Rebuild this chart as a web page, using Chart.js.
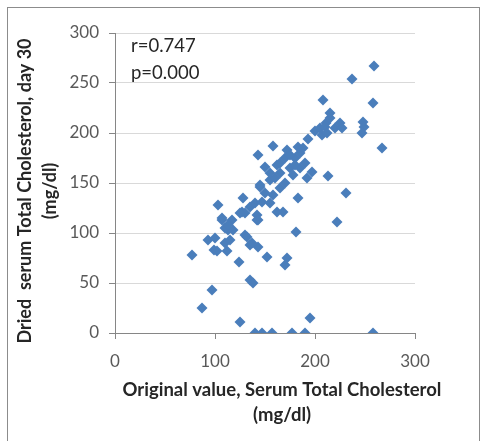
<!DOCTYPE html>
<html>
<head>
<meta charset="utf-8">
<script src="https://cdn.jsdelivr.net/npm/chart.js@4/dist/chart.umd.min.js"></script>
<style>
html,body{margin:0;padding:0;background:#fff;}
#c{display:block;}
</style>
</head>
<body>
<canvas id="c" width="487" height="441"></canvas>
<script>
// Original value (mg/dl)
const xValues = [
  140,147,157,177,190,258,
  125,195,87,97,135,138,124,170,172,152,77,143,181,222,
  93,99,102,112,100,110,115,103,107,117,113,110,118,107,113,130,132,137,135,
  128,127,130,125,135,140,142,142,143,145,147,155,162,168,158,183,
  143,150,145,155,162,158,160,165,170,175,180,185,190,192,197,213,231,172,183,193,
  150,165,170,178,185,175,180,188,165,155,
  200,205,207,211,215,210,220,225,227,215,208,212,248,249,247,237,259,258,267
];
// Dried serum, day 30 (mg/dl)
const yValues = [
  0,0,0,0,0,0,
  11,15,25,43,53,50,71,68,75,76,78,86,101,111,
  93,83,82,82,95,90,93,128,113,113,103,105,103,115,108,98,96,90,88,
  135,121,120,120,126,130,113,118,113,146,131,130,121,121,138,135,
  178,166,148,153,168,187,155,160,175,165,175,180,170,155,161,157,140,183,186,194,
  140,145,150,158,165,178,168,185,170,160,
  202,205,198,210,215,206,205,210,205,220,233,200,211,206,200,254,267,230,185
];
const yTicks = [0, 50, 100, 150, 200, 250, 300];
const xTicks = [0, 100, 200, 300];
const xTitle = ['Original value, Serum Total Cholesterol', '(mg/dl)'];
const yTitle = ['Dried  serum Total Cholesterol, day 30', '(mg/dl)'];
const statLines = ['r=0.747', 'p=0.000'];

const points = xValues.map((x, i) => ({ x: x, y: yValues[i] }));

const FONT = 'Lato, "Liberation Sans", sans-serif';

const decor = {
  id: 'decor',
  beforeDraw(chart) {
    const ctx = chart.ctx;
    ctx.save();
    ctx.fillStyle = '#ffffff';
    ctx.fillRect(0, 0, chart.width, chart.height);
    ctx.strokeStyle = '#8c8c8c';
    ctx.lineWidth = 1;
    ctx.strokeRect(7.5, 7.5, 472, 445);
    ctx.restore();
  },
  afterDraw(chart) {
    const ctx = chart.ctx;
    ctx.save();
    ctx.fillStyle = '#262626';
    ctx.textAlign = 'left';
    ctx.textBaseline = 'middle';
    ctx.font = '18.5px ' + FONT;
    ctx.fillText(statLines[0], 131, 46);
    ctx.fillText(statLines[1], 131, 73);

    ctx.textAlign = 'center';
    ctx.font = 'bold 18.5px ' + FONT;
    ctx.fillText(xTitle[0], 282, 390);
    ctx.fillText(xTitle[1], 282, 415);

    ctx.font = 'bold 18px ' + FONT;
    ctx.save();
    ctx.translate(25, 191);
    ctx.rotate(-Math.PI / 2);
    ctx.fillText(yTitle[0], 0, 0);
    ctx.restore();
    ctx.save();
    ctx.translate(50, 191);
    ctx.rotate(-Math.PI / 2);
    ctx.fillText(yTitle[1], 0, 0);
    ctx.restore();
    ctx.restore();
  }
};

new Chart(document.getElementById('c'), {
  type: 'scatter',
  data: {
    datasets: [{
      data: points,
      pointStyle: 'rectRot',
      pointRadius: 5.5,
      pointHoverRadius: 5.5,
      backgroundColor: '#4a7ebb',
      borderColor: '#4a7ebb',
      borderWidth: 0
    }]
  },
  options: {
    responsive: false,
    devicePixelRatio: 1,
    animation: false,
    layout: { padding: { left: 0, top: 33, right: 72, bottom: 0 } },
    plugins: { legend: { display: false }, tooltip: { enabled: false } },
    scales: {
      x: {
        type: 'linear',
        min: 0, max: 300,
        afterBuildTicks(scale) { scale.ticks = xTicks.map(v => ({ value: v })); },
        afterFit(scale) { scale.height = 108; },
        grid: { drawOnChartArea: false, drawTicks: true, tickLength: 6, tickColor: '#868686' },
        border: { color: '#868686', width: 1 },
        ticks: { color: '#595959', font: { family: FONT, size: 17 }, padding: 12, maxRotation: 0 }
      },
      y: {
        type: 'linear',
        min: 0, max: 300,
        afterBuildTicks(scale) { scale.ticks = yTicks.map(v => ({ value: v })); },
        afterFit(scale) { scale.width = 115; },
        grid: { color: '#d9d9d9', drawTicks: true, tickLength: 6, tickColor: '#868686' },
        border: { color: '#868686', width: 1 },
        ticks: { color: '#595959', font: { family: FONT, size: 17 }, padding: 10 }
      }
    }
  },
  plugins: [decor]
});
</script>
</body>
</html>
